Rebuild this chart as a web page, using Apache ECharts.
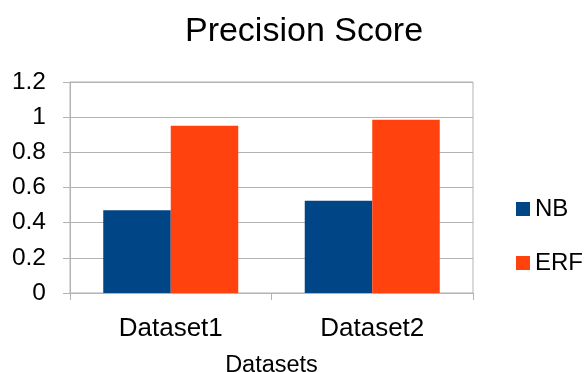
<!DOCTYPE html>
<html>
<head>
<meta charset="utf-8">
<script src="https://cdn.jsdelivr.net/npm/echarts@6/dist/echarts.min.js"></script>
<style>html,body{margin:0;padding:0;background:#fff}#c{width:588px;height:372px}</style>
</head>
<body>
<div id="c"></div>
<script>
var categories = ['Dataset1', 'Dataset2'];
var nbValues = [0.471, 0.524];
var erfValues = [0.951, 0.985];
var yTicks = { min: 0, max: 1.2, interval: 0.2 };

var chart = echarts.init(document.getElementById('c'), null, { renderer: 'canvas' });
var font = '"Liberation Sans", Arial, sans-serif';
var gridColor = '#b3b3b3';
chart.setOption({
  animation: false,
  backgroundColor: '#ffffff',
  title: {
    text: 'Precision Score',
    left: 304, top: 15, textAlign: 'center', padding: 0,
    textStyle: { fontFamily: font, fontSize: 34, fontWeight: 'normal', color: '#000' }
  },
  legend: {
    orient: 'vertical', left: 516, top: 197, padding: 0,
    itemWidth: 14, itemHeight: 14, itemGap: 30,
    icon: 'rect',
    textStyle: { fontFamily: font, fontSize: 24, color: '#000' },
    data: ['NB', 'ERF']
  },
  grid: { left: 70, right: 115, top: 82, bottom: 79, containLabel: false, outerBoundsMode: 'none',
    show: true, borderColor: gridColor, borderWidth: 1 },
  xAxis: {
    type: 'category', data: categories,
    name: 'Datasets', nameLocation: 'middle', nameGap: 61,
    nameTextStyle: { fontFamily: font, fontSize: 23.5, color: '#000' },
    axisLine: { lineStyle: { color: gridColor } },
    axisTick: { show: true, length: 7, lineStyle: { color: gridColor } },
    axisLabel: { fontFamily: font, fontSize: 26, color: '#000', margin: 23 }
  },
  yAxis: {
    type: 'value', min: yTicks.min, max: yTicks.max, interval: yTicks.interval,
    axisLine: { show: true, lineStyle: { color: gridColor } },
    axisTick: { show: true, length: 7, lineStyle: { color: gridColor } },
    splitLine: { lineStyle: { color: gridColor } },
    axisLabel: { fontFamily: font, fontSize: 24.5, color: '#000', margin: 24,
      formatter: function (v) { return String(Math.round(v * 10) / 10); } }
  },
  series: [
    { name: 'NB', type: 'bar', data: nbValues, barGap: '0%', barCategoryGap: '33%', itemStyle: { color: '#004586' } },
    { name: 'ERF', type: 'bar', data: erfValues, barGap: '0%', barCategoryGap: '33%', itemStyle: { color: '#ff420e' } }
  ]
});
</script>
</body>
</html>
